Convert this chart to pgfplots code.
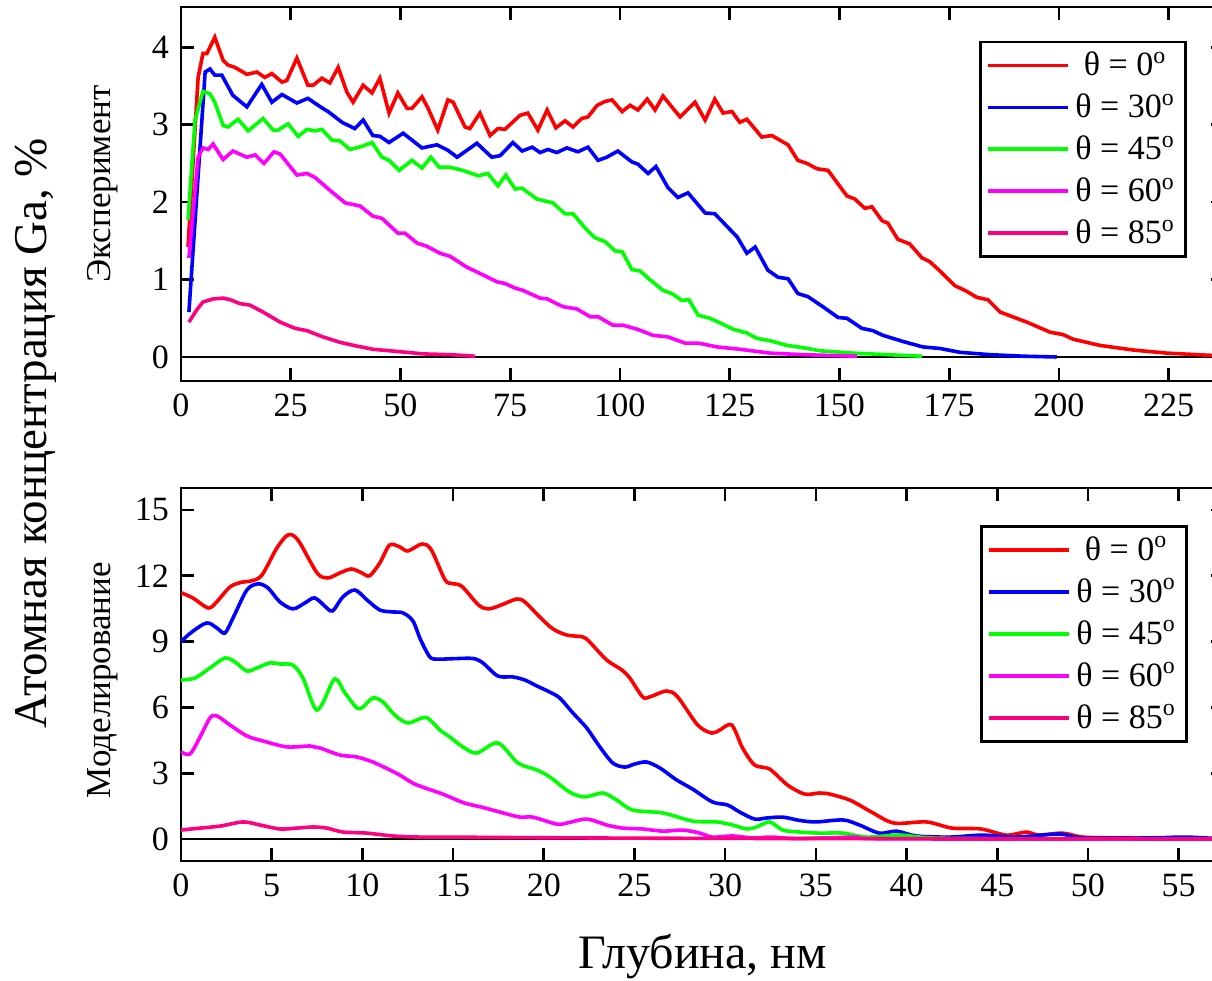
\documentclass[border=0pt]{standalone}
\usepackage{fontspec}
\setmainfont{Liberation Serif}
\usepackage{pgfplots}
\pgfplotsset{compat=1.18}

\definecolor{cRed}{RGB}{255,0,0}
\definecolor{cBlue}{RGB}{0,0,255}
\definecolor{cGreen}{RGB}{0,255,0}
\definecolor{cMag}{RGB}{255,0,255}
\definecolor{cPink}{RGB}{255,0,128}

\newcommand{\tickfont}{\fontsize{17}{20}\selectfont}

\pgfplotsset{
  panel/.style={
    scale only axis,
    width=521.5pt,
    xmin=0,
    tick align=inside,
    xtick pos=both, ytick pos=both,
    axis line style={line width=1.3pt},
    every tick/.style={black, line width=1.3pt},
    major tick length=6.5pt,
    ticklabel style={font=\tickfont},
    /pgf/number format/assume math mode=true,
    xticklabel style={yshift=-3pt},
    yticklabel style={xshift=-2.5pt},
    ylabel style={font=\fontsize{17.5}{20}\selectfont},
    every axis plot/.append style={line width=1.8pt},
    legend image code/.code={\draw[#1, line width=1.8pt] (0pt,0pt) -- (40pt,0pt);},
    legend cell align=center,
    legend style={anchor=north east, draw=black, line width=1.3pt,
      font=\tickfont, inner xsep=2.5pt, inner ysep=2pt, row sep=1.6pt,
      nodes={inner sep=3pt},
      /tikz/every even column/.append style={column sep=5pt}},
  }
}

\begin{document}
\begin{tikzpicture}

% experiment
\begin{axis}[panel, name=top,
    at={(90.5pt,300pt)}, anchor=south west,
    height=187pt,
    xmax=237.6, ymin=-0.31, ymax=4.52,
    xtick={0,25,...,225}, ytick={0,1,2,3,4},
    ylabel={Эксперимент},
    ylabel style={at={(axis description cs:-0.075,0.527)}, anchor=center},
    legend style={at={(0.9645,0.91)}},
]
\addplot[black, line width=1.2pt, forget plot] coordinates {(0,0) (240,0)};
\addplot[cRed] coordinates {
(1.6,1.42)(3.9,3.61)(5.0,3.92)(5.9,3.92)(7.7,4.13)(9.6,3.83)(10.7,3.77)(12.3,3.74)(15,3.65)(17.3,3.68)
(19.1,3.61)(20.7,3.66)(23,3.55)(24.1,3.57)(26.4,3.86)(28.9,3.51)(30.1,3.51)(32.1,3.6)(33.9,3.54)(35.8,3.74)
(37.8,3.42)(39.2,3.29)(41.5,3.51)(43.5,3.41)(45.3,3.6)(47.4,3.15)(49.4,3.41)(51.5,3.21)(52.6,3.21)(54.9,3.36)
(56.3,3.21)(58.5,2.93)(60.8,3.32)(62,3.29)(64.7,2.97)(65.8,2.95)(68.1,3.15)(70.4,2.86)(72.2,2.95)(73.8,2.94)
(77.2,3.12)(79,3.15)(81.3,2.93)(83.4,3.19)(85.4,2.96)(87.5,3.05)(89.3,2.97)(91.3,3.08)(92.7,3.1)(94.8,3.25)
(96.6,3.3)(98.2,3.32)(100.5,3.17)(102.3,3.25)(104.1,3.19)(106.2,3.33)(108,3.19)(109.8,3.37)(111.8,3.23)(113.7,3.1)
(115.3,3.19)(117.1,3.29)(119.4,3.06)(121.6,3.33)(123.5,3.15)(125.5,3.17)(127.3,3.03)(128.9,3.07)(132.3,2.84)(134.6,2.86)
(138.3,2.74)(140.5,2.54)(142.6,2.5)(144.9,2.43)(147.4,2.41)(151.7,2.08)(153.5,2.04)(155.8,1.92)(157.4,1.94)(159.7,1.76)
(161,1.73)(163.3,1.52)(166,1.46)(168.8,1.28)(170.6,1.23)(172.9,1.11)(176.3,0.92)(178.6,0.86)(181.3,0.77)(183.8,0.74)
(186.6,0.58)(192.7,0.45)(198,0.32)(200.9,0.29)(203.2,0.23)(209.3,0.15)(216.9,0.09)(224.6,0.05)(235,0.02)(237.6,0.02)
};
\addlegendentry{θ = 0\textsuperscript{o}}
\addplot[cBlue] coordinates {
(1.8,0.58)(5.5,3.68)(6.6,3.72)(7.7,3.64)(9.3,3.64)(11.8,3.38)(15,3.23)(18.4,3.52)(20.7,3.29)(23,3.39)
(26.4,3.28)(28.9,3.34)(32.3,3.21)(33.5,3.17)(36.7,3.03)(39.6,2.95)(41.5,3.06)(43.7,2.86)(45.3,2.85)(47.4,2.77)
(50.6,2.89)(54.9,2.7)(58.3,2.74)(60.8,2.67)(62.9,2.58)(67.4,2.76)(70.8,2.58)(72.7,2.6)(75.6,2.77)(77.7,2.66)
(80,2.71)(81.8,2.64)(83.6,2.68)(85.6,2.64)(87.9,2.7)(90.4,2.65)(92.7,2.71)(95,2.54)(97,2.58)(99.5,2.66)
(102.7,2.52)(104.1,2.49)(106.4,2.37)(108.2,2.46)(110.9,2.19)(113.2,2.06)(115.5,2.12)(119.4,1.86)(121.6,1.85)(122.8,1.78)
(126.7,1.55)(128.9,1.34)(130.8,1.42)(133.7,1.12)(136,1.03)(138.3,1.01)(140.5,0.82)(142.8,0.78)(146.2,0.65)(149.7,0.51)
(151.7,0.5)(155.1,0.37)(157.6,0.34)(159.9,0.28)(164.5,0.2)(169,0.13)(172.9,0.11)(177.5,0.06)(184.3,0.03)(192,0.01)(199.5,0)
};
\addlegendentry{θ = 30\textsuperscript{o}}
\addplot[cGreen] coordinates {
(1.6,1.77)(3.2,3.06)(5,3.43)(6.6,3.4)(7.7,3.29)(9.6,2.99)(10.7,2.97)(13,3.07)(15.3,2.92)(18.7,3.08)
(21,2.93)(22.1,2.93)(24.4,3.01)(26.7,2.85)(28.7,2.94)(30.5,2.92)(32.1,2.94)(34.4,2.8)(36.2,2.79)(38.5,2.68)
(41.2,2.72)(43.5,2.77)(45.8,2.58)(47.4,2.54)(49.7,2.41)(52.6,2.54)(54.9,2.44)(56.9,2.58)(58.8,2.45)(61.3,2.45)
(64.2,2.41)(67.7,2.34)(69.9,2.37)(72.2,2.21)(74,2.35)(76.1,2.17)(77.7,2.18)(81.1,2.04)(84.7,1.99)(87.5,1.85)
(89.3,1.85)(92,1.67)(94.3,1.54)(96.6,1.49)(98.9,1.37)(100.5,1.36)(102.7,1.13)(104.6,1.11)(106.8,1.0)(109.8,0.86)
(111.8,0.82)(114.1,0.73)(115.7,0.74)(117.8,0.54)(120.5,0.5)(122.8,0.44)(125.7,0.36)(128.9,0.31)(131.2,0.24)(134.2,0.21)
(138,0.15)(141.7,0.12)(145.6,0.08)(153.1,0.05)(160.8,0.03)(168.8,0.01)
};
\addlegendentry{θ = 45\textsuperscript{o}}
\addplot[cMag] coordinates {
(1.8,1.28)(3.9,2.58)(5,2.7)(6.2,2.68)(7.3,2.75)(9.6,2.55)(11.8,2.66)(15,2.58)(16.9,2.61)(18.9,2.5)
(21.2,2.65)(22.6,2.62)(26.4,2.35)(28.7,2.37)(30.5,2.32)(34.4,2.13)(37.4,1.99)(40.8,1.95)(43.7,1.82)(45.8,1.79)
(49.4,1.6)(51,1.6)(53.8,1.47)(56,1.43)(59,1.34)(61.3,1.3)(65.1,1.16)(68.1,1.08)(72,0.97)(73.8,0.95)
(76.1,0.89)(77.9,0.86)(81.8,0.76)(83.4,0.75)(87,0.65)(90.2,0.62)(93.2,0.52)(95,0.52)(98.4,0.41)(100.7,0.41)
(103.9,0.36)(107.5,0.28)(110.9,0.26)(114.8,0.18)(117.8,0.18)(122.1,0.13)(127.3,0.1)(134.2,0.05)(141.7,0.03)(154,0.01)
};
\addlegendentry{θ = 60\textsuperscript{o}}
\addplot[cPink] coordinates {
(1.8,0.45)(3.6,0.61)(5,0.71)(7.3,0.75)(9.6,0.76)(11.2,0.74)(13.4,0.69)(15.7,0.67)(18.7,0.58)(22.6,0.45)
(26,0.37)(28.7,0.34)(32.3,0.26)(36.2,0.19)(40.1,0.14)(43.7,0.1)(47.6,0.08)(51.5,0.06)(55.1,0.04)(61.3,0.03)(67,0.01)
};
\addlegendentry{θ = 85\textsuperscript{o}}
\end{axis}

% simulation
\begin{axis}[panel, name=bot,
    at={(90.5pt,60pt)}, anchor=south west,
    height=186.5pt,
    xmax=57.5, ymin=-1, ymax=16,
    xtick={0,5,...,55}, ytick={0,3,...,15},
    ylabel={Моделирование},
    ylabel style={at={(axis description cs:-0.075,0.485)}, anchor=center},
    xlabel={Глубина, нм},
    xlabel style={at={(axis description cs:0.5,-0.257)}, anchor=center, font=\fontsize{24}{28}\selectfont},
    legend style={at={(0.9655,0.9)}},
    every axis plot/.append style={smooth},
]
\addplot[black, line width=1.2pt, sharp plot, forget plot] coordinates {(0,0) (60,0)};
\addplot[cRed] coordinates {
(0,11.23)(0.67,10.98)(1.5,10.53)(1.98,10.82)(2.7,11.49)(3.36,11.71)(3.9,11.77)(4.46,12.03)(5.29,13.27)(5.9,13.86)
(6.45,13.63)(7.5,12.13)(8.1,11.9)(8.76,12.13)(9.4,12.31)(9.97,12.13)(10.4,12.0)(10.96,12.58)(11.5,13.4)(12.07,13.31)
(12.5,13.13)(13.3,13.45)(13.8,13.18)(14.55,11.82)(14.93,11.65)(15.48,11.52)(16.4,10.67)(16.95,10.49)(17.6,10.65)(18.5,10.94)
(18.95,10.81)(19.78,10.12)(20.5,9.58)(21.27,9.3)(22.15,9.21)(22.53,8.98)(23.47,8.16)(24.3,7.71)(24.74,7.34)(25.45,6.48)
(25.84,6.48)(26.78,6.75)(27.38,6.48)(28.48,5.2)(29.26,4.83)(29.7,4.97)(30.36,5.2)(30.96,4.15)(31.63,3.37)(32.45,3.19)
(33.44,2.46)(34.38,2.05)(35.2,2.1)(35.6,2.08)(36.86,1.78)(38.07,1.23)(39.3,0.73)(41.1,0.78)(42.5,0.5)(44.1,0.46)
(45.5,0.18)(46.6,0.32)(47.3,0.18)(48.6,0.27)(49.7,0.09)(51.6,0.05)(54.3,0.04)(57.5,0)
};
\addlegendentry{θ = 0\textsuperscript{o}}
\addplot[cBlue] coordinates {
(0,9.0)(0.6,9.44)(1.42,9.85)(1.98,9.62)(2.42,9.39)(2.87,10.08)(3.63,11.35)(4.24,11.63)(4.79,11.45)(5.45,10.81)
(6.17,10.49)(6.83,10.76)(7.38,10.99)(8.04,10.53)(8.37,10.4)(8.93,11.04)(9.59,11.35)(10.25,10.9)(10.96,10.44)(11.68,10.35)
(12.23,10.31)(12.78,9.95)(13.2,9.1)(13.72,8.3)(14.16,8.2)(14.99,8.22)(16.09,8.23)(16.64,8.03)(17.47,7.43)(18.29,7.39)
(18.95,7.25)(19.61,6.98)(20.33,6.7)(20.88,6.43)(21.6,5.75)(22.37,5.06)(23.09,4.2)(23.8,3.47)(24.46,3.28)(25.01,3.42)
(25.67,3.51)(26.4,3.24)(27.33,2.69)(28.2,2.28)(29.3,1.69)(30.14,1.55)(30.8,1.23)(31.63,0.91)(32.29,0.96)(33.17,1.0)
(34.1,0.85)(35,0.78)(36.5,0.87)(37.4,0.64)(38.5,0.27)(39.45,0.36)(40.55,0.14)(42.4,0.09)(44.2,0.18)(46,0.09)
(48.4,0.23)(49.7,0.05)(53.4,0.05)(55.4,0.09)(57.5,0)
};
\addlegendentry{θ = 30\textsuperscript{o}}
\addplot[cGreen] coordinates {
(0,7.25)(0.77,7.34)(1.6,7.8)(2.42,8.25)(2.98,8.07)(3.63,7.66)(4.19,7.8)(4.9,8.03)(5.45,7.98)(6.17,7.93)
(6.72,7.34)(7.22,6.25)(7.49,5.88)(7.82,6.2)(8.48,7.3)(9.04,6.66)(9.7,5.97)(10.03,6.02)(10.58,6.43)(11.13,6.25)
(11.79,5.65)(12.51,5.29)(13.5,5.54)(14.27,4.97)(14.82,4.65)(15.54,4.2)(16.3,3.92)(17.47,4.38)(18.57,3.47)(19.61,3.15)
(20.33,2.83)(21.43,2.14)(22.26,1.92)(23.25,2.1)(24.02,1.78)(24.9,1.32)(26.56,1.19)(28.2,0.82)(29.53,0.78)(30.41,0.64)
(31.18,0.46)(31.73,0.55)(32.45,0.78)(33.17,0.41)(34.1,0.32)(35.2,0.27)(36.5,0.27)(37.8,0.09)(39.6,0.18)(41.4,0.05)
(45,0.02)(57.5,0)
};
\addlegendentry{θ = 45\textsuperscript{o}}
\addplot[cMag] coordinates {
(0,3.97)(0.5,3.88)(1.05,4.65)(1.6,5.52)(1.98,5.61)(2.7,5.2)(3.63,4.7)(4.52,4.47)(5.84,4.2)(7.11,4.24)
(7.66,4.15)(8.76,3.83)(9.7,3.74)(10.58,3.51)(11.51,3.15)(12.1,2.9)(12.78,2.55)(13.45,2.33)(14.43,2.05)(15.6,1.65)
(16.6,1.45)(17.58,1.23)(18.68,1.0)(19.39,1.0)(20.72,0.68)(21.27,0.73)(22.37,0.91)(23.47,0.64)(24.35,0.5)(25.45,0.46)
(26.56,0.36)(27.66,0.41)(28.6,0.27)(29.3,0.09)(30.41,0.14)(31.5,0.05)(32.56,0.09)(34,0.02)(37.2,0.09)(39,0.01)(57.5,0)
};
\addlegendentry{θ = 60\textsuperscript{o}}
\addplot[cPink] coordinates {
(0,0.41)(1.05,0.5)(2.15,0.59)(3.42,0.78)(4.35,0.64)(5.45,0.46)(6.39,0.5)(7.27,0.55)(8.04,0.5)(8.93,0.32)
(10.25,0.27)(11.68,0.14)(13.17,0.09)(14.66,0.09)(20,0.06)(30,0.03)(57.5,0)
};
\addlegendentry{θ = 85\textsuperscript{o}}
\end{axis}

\node[rotate=90, anchor=north, inner sep=0pt, font=\fontsize{23.5}{28}\selectfont]
  at (7.5pt,274pt) {Атомная концентрация Ga, \%};

\pgfresetboundingbox
\path (0pt,0pt) rectangle (606pt,490.5pt);
\end{tikzpicture}
\end{document}
